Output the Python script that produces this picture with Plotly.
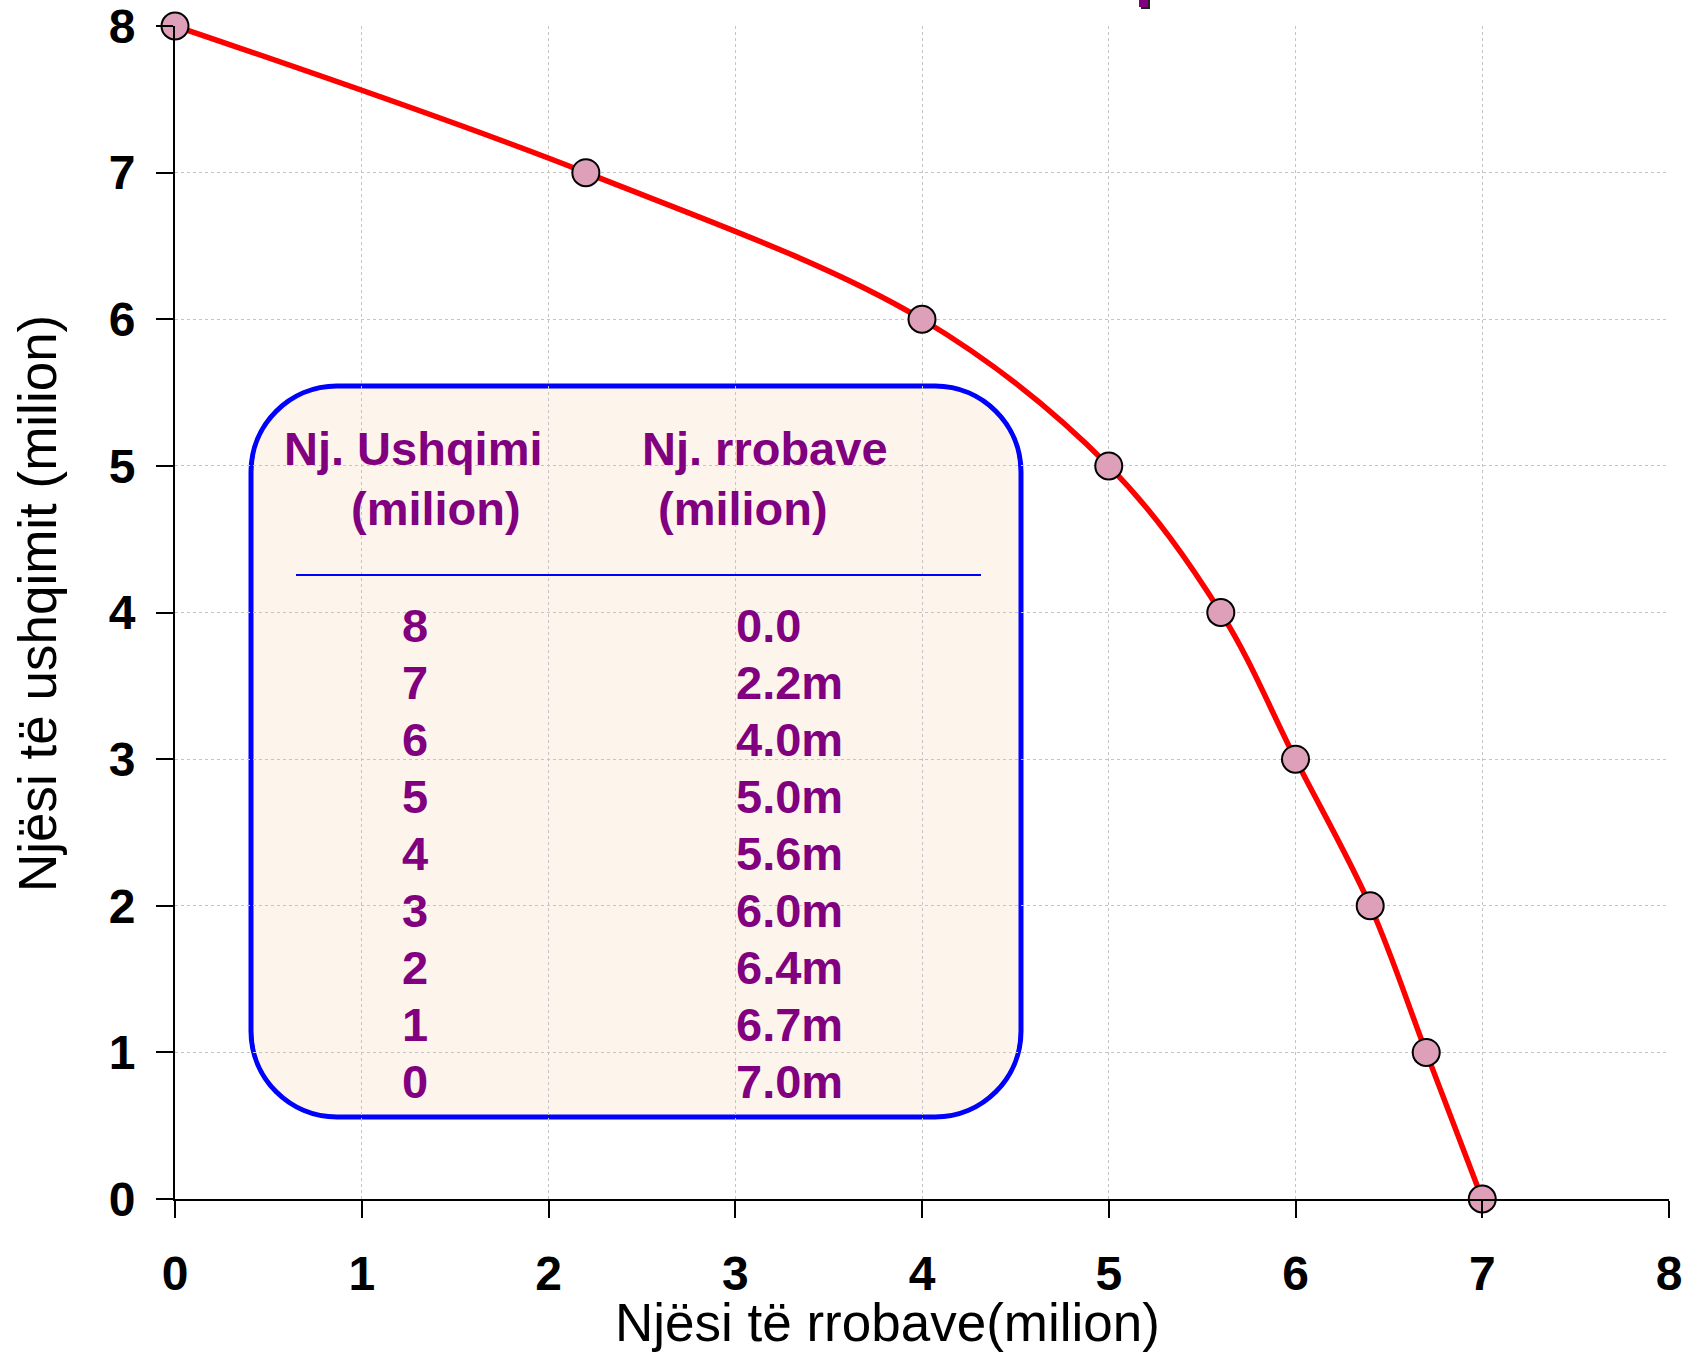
import plotly.graph_objects as go

# ---- data ----
food_units = [8, 7, 6, 5, 4, 3, 2, 1, 0]                 # Nj. Ushqimi (milion)
clothes_units = [0.0, 2.2, 4.0, 5.0, 5.6, 6.0, 6.4, 6.7, 7.0]  # Nj. rrobave (milion)
clothes_labels = ["0.0", "2.2m", "4.0m", "5.0m", "5.6m", "6.0m", "6.4m", "6.7m", "7.0m"]
tick_vals = [0, 1, 2, 3, 4, 5, 6, 7, 8]

x_title = "Njësi të rrobave(milion)"
y_title = "Njësi të ushqimit (milion)"
hdr_food = ["Nj. Ushqimi", "(milion)"]
hdr_clothes = ["Nj. rrobave", "(milion)"]

# ---- layout geometry (pixels) ----
W, H = 1684, 1352
ML, MR, MT, MB = 175, 15, 26, 153
PW, PH = W - ML - MR, H - MT - MB
FONT = "Liberation Sans, Arial, sans-serif"
PURPLE = "#800080"


def dx(px):
    return (px - ML) / PW * 8


def dy(py):
    return (H - MB - py) / PH * 8


def paper_x(px):
    return (px - ML) / PW


def paper_y(py):
    return (H - MB - py) / PH


fig = go.Figure()

fig.add_trace(go.Scatter(
    x=clothes_units, y=food_units,
    mode="lines+markers",
    line=dict(color="#ff0000", width=5.5, shape="spline", smoothing=1),
    marker=dict(size=27, color="#dda0b8", line=dict(color="black", width=2)),
    cliponaxis=False, showlegend=False, hoverinfo="skip",
))

# rounded info box
x0, x1 = dx(251), dx(1021)
y0, y1 = dy(1117), dy(386)
rx, ry = 86 / PW * 8, 86 / PH * 8
k = 0.5523
path = (
    f"M {x0+rx},{y1} L {x1-rx},{y1} "
    f"C {x1-rx+k*rx},{y1} {x1},{y1-ry+k*ry} {x1},{y1-ry} "
    f"L {x1},{y0+ry} "
    f"C {x1},{y0+ry-k*ry} {x1-rx+k*rx},{y0} {x1-rx},{y0} "
    f"L {x0+rx},{y0} "
    f"C {x0+rx-k*rx},{y0} {x0},{y0+ry-k*ry} {x0},{y0+ry} "
    f"L {x0},{y1-ry} "
    f"C {x0},{y1-ry+k*ry} {x0+rx-k*rx},{y1} {x0+rx},{y1} Z"
)
shapes = [
    dict(type="path", path=path, xref="x", yref="y", layer="below",
         fillcolor="#fdf4eb", line=dict(color="#0000ff", width=5)),
    dict(type="line", xref="x", yref="y", x0=dx(296), x1=dx(981), y0=dy(575), y1=dy(575),
         line=dict(color="#0000ff", width=2)),
    # cut-off purple glyph at the top edge
    dict(type="rect", xref="paper", yref="paper", x0=paper_x(1141), x1=paper_x(1150),
         y0=paper_y(9), y1=paper_y(-2), fillcolor="#202020", line=dict(width=0)),
    dict(type="rect", xref="paper", yref="paper", x0=paper_x(1139), x1=paper_x(1148),
         y0=paper_y(7), y1=paper_y(-2), fillcolor=PURPLE, line=dict(width=0)),
]

annotations = []
F = 47
off = 0.3465 * F  # baseline -> box centre
tfont = dict(family=FONT, size=F, color=PURPLE, weight="bold")


def add_text(text, px, baseline, xanchor="center"):
    annotations.append(dict(text=text, x=dx(px), y=dy(baseline - off), xref="x", yref="y",
                            xanchor=xanchor, yanchor="middle", showarrow=False, font=tfont))


add_text(hdr_food[0], 413, 465)
add_text(hdr_food[1], 436, 525)
add_text(hdr_clothes[0], 765, 465)
add_text(hdr_clothes[1], 743, 525)
for i, (f, c) in enumerate(zip(food_units, clothes_labels)):
    base = 642 + 57.0 * i
    add_text(str(f), 415, base)
    add_text(c, 734, base, xanchor="left")

# axis titles
annotations.append(dict(text=x_title, x=paper_x(887), y=paper_y(1323), xref="paper", yref="paper",
                        xanchor="center", yanchor="middle", showarrow=False,
                        font=dict(family=FONT, size=53, color="black")))
annotations.append(dict(text=y_title, x=paper_x(37), y=paper_y(604), xref="paper", yref="paper",
                        xanchor="center", yanchor="middle", showarrow=False, textangle=-90,
                        font=dict(family=FONT, size=53, color="black")))

axis_common = dict(
    range=[0, 8], tickmode="array", tickvals=tick_vals, ticktext=[str(v) for v in tick_vals],
    showline=True, linecolor="black", linewidth=2,
    ticks="outside", ticklen=17, tickwidth=2, tickcolor="black",
    showgrid=True, gridcolor="#c4c4c4", gridwidth=1, griddash="dot",
    zeroline=False, fixedrange=True, ticklabeloverflow="allow", automargin=False,
    tickfont=dict(family=FONT, size=48, color="black", weight="bold"),
)

fig.update_layout(
    width=W, height=H,
    margin=dict(l=ML, r=MR, t=MT, b=MB, autoexpand=False),
    paper_bgcolor="white", plot_bgcolor="white",
    xaxis=dict(**axis_common, ticklabelstandoff=14),
    yaxis=dict(**axis_common, ticklabelstandoff=11),
    shapes=shapes, annotations=annotations,
    showlegend=False,
)

fig.write_html("out.html", config={"displayModeBar": False},
               post_script="document.body.style.margin='0';document.body.style.overflow='hidden';")
